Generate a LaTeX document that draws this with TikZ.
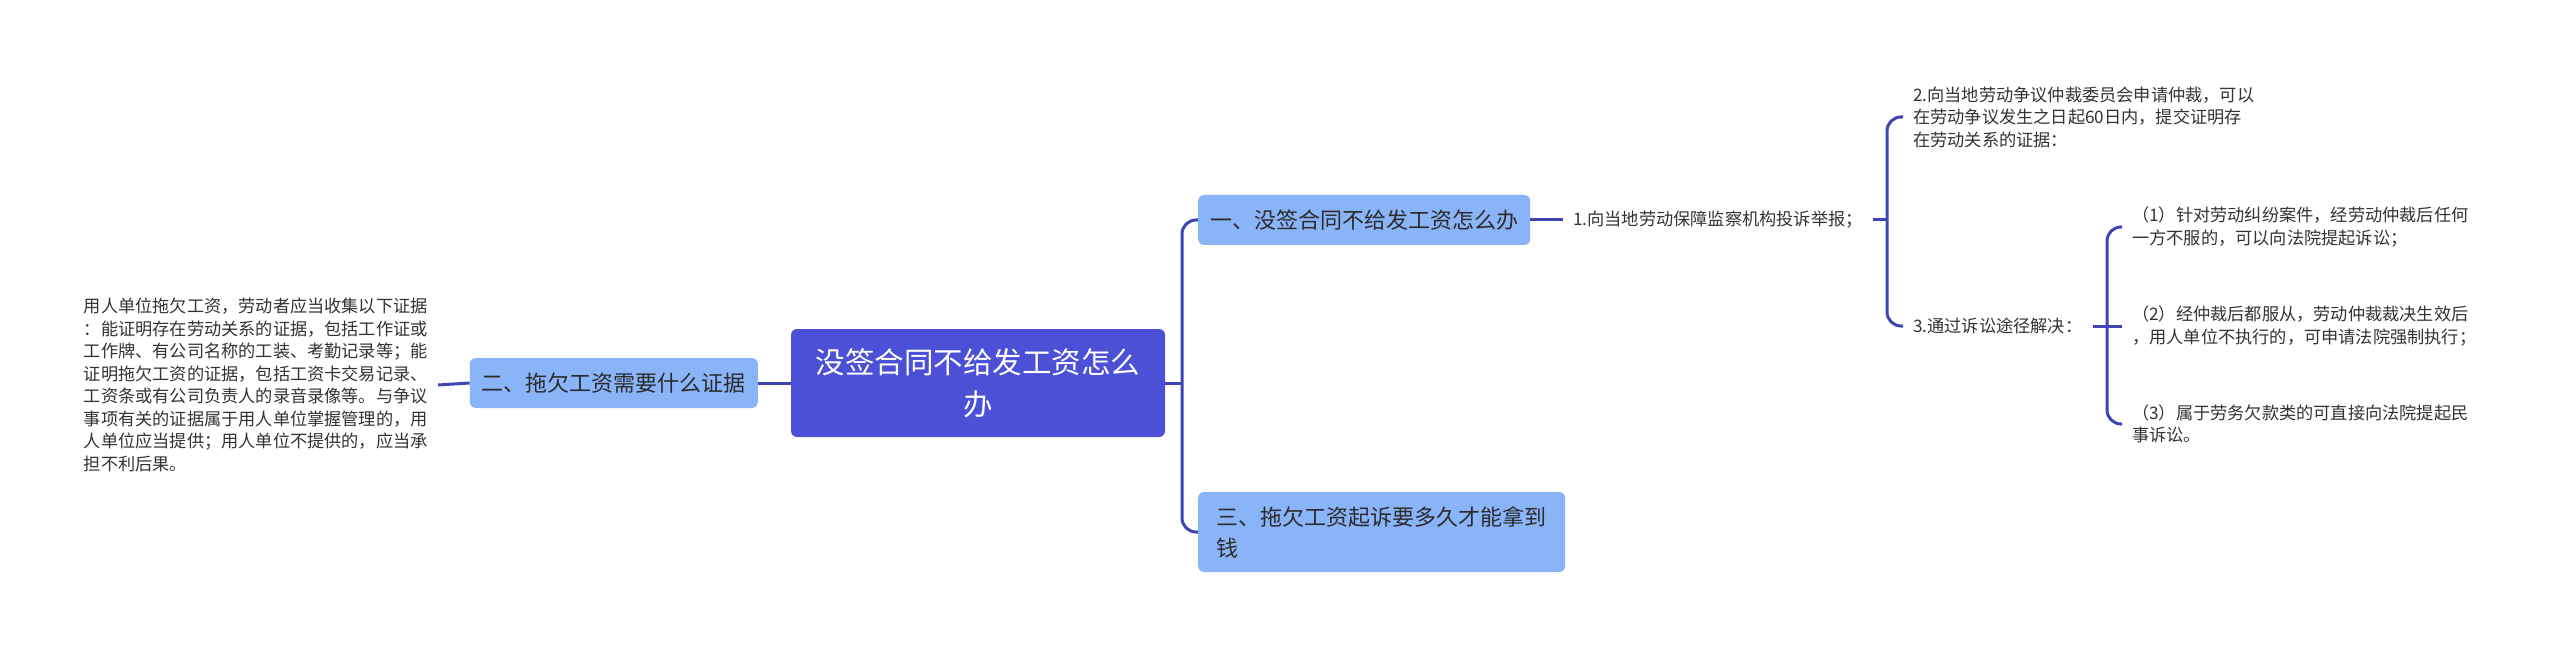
\documentclass[tikz,border=0pt]{standalone}
\usepackage{fontspec}
\setmainfont{Noto Sans CJK SC}
\usetikzlibrary{positioning}
\definecolor{rootblue}{HTML}{4B50D7}
\definecolor{topicblue}{HTML}{8AB4F8}
\definecolor{topictext}{HTML}{2B2B2B}
\definecolor{leaftext}{HTML}{333333}
\definecolor{linkblue}{HTML}{3F45B5}
\tikzset{
  rootbox/.style={fill=rootblue, text=white, rounded corners=6pt,
    font=\fontsize{29.5}{42}\selectfont, align=center,
    minimum width=374pt, minimum height=108pt},
  topicbox/.style={fill=topicblue, text=topictext, rounded corners=6pt,
    font=\fontsize{22}{31}\selectfont, align=left, inner xsep=11pt,
    minimum height=50pt},
  leaf/.style={text=leaftext, font=\fontsize{17.2}{22.5}\selectfont,
    align=left, inner xsep=10pt, inner ysep=2pt},
  link/.style={draw=linkblue, line width=3pt, rounded corners=14pt},
}
\begin{document}
\begin{tikzpicture}[x=1pt, y=-1pt]
  \fill[white] (0,0) rectangle (2560,647);
  \useasboundingbox (0,0) rectangle (2560,647);
  % centre and first level
  \node[rootbox] (root) at (978,383) {没签合同不给发工资怎么\\办};
  \node[topicbox, anchor=west, minimum width=332pt] (one) at (1198,220)
    {一、没签合同不给发工资怎么办};
  \node[topicbox, anchor=east, minimum width=288pt] (two) at (758,383)
    {二、拖欠工资需要什么证据};
  \node[topicbox, anchor=west, minimum width=367pt, minimum height=80pt]
    (three) at (1198,532) {三、拖欠工资起诉要多久才能拿到\\钱};
  % evidence text on the left
  \node[leaf, anchor=east] (evid) at (438,385)
    {用人单位拖欠工资，劳动者应当收集以下证据\\
     ：能证明存在劳动关系的证据，包括工作证或\\
     工作牌、有公司名称的工装、考勤记录等；能\\
     证明拖欠工资的证据，包括工资卡交易记录、\\
     工资条或有公司负责人的录音录像等。与争议\\
     事项有关的证据属于用人单位掌握管理的，用\\
     人单位应当提供；用人单位不提供的，应当承\\
     担不利后果。};
  % ways on the right
  \node[leaf, anchor=west] (way1) at (1563,220) {1.向当地劳动保障监察机构投诉举报；};
  \node[leaf, anchor=west] (way2) at (1903,117)
    {2.向当地劳动争议仲裁委员会申请仲裁，可以\\
     在劳动争议发生之日起60日内，提交证明存\\
     在劳动关系的证据：};
  \node[leaf, anchor=west] (way3) at (1903,326) {3.通过诉讼途径解决：};
  \node[leaf, anchor=west] (sue1) at (2122,227)
    {（1）针对劳动纠纷案件，经劳动仲裁后任何\\一方不服的，可以向法院提起诉讼；};
  \node[leaf, anchor=west] (sue2) at (2122,326)
    {（2）经仲裁后都服从，劳动仲裁裁决生效后\\，用人单位不执行的，可申请法院强制执行；};
  \node[leaf, anchor=west] (sue3) at (2122,424)
    {（3）属于劳务欠款类的可直接向法院提起民\\事诉讼。};
  % junctions
  \coordinate (j1) at (1182,383);
  \coordinate (j2) at (1887,220);
  \coordinate (j3) at (2107,326);
  % connectors
  \draw[link] (root.east) -- (j1);
  \draw[link] (j1) |- (one.west);
  \draw[link] (j1) |- (three.west);
  \draw[link] (root.west) -- (two.east);
  \draw[link] (two.west) -- (evid.east);
  \draw[link] (one.east) -- (way1.west);
  \draw[link] (way1.east) -- (j2);
  \draw[link] (j2) |- (way2.west);
  \draw[link] (j2) |- (way3.west);
  \draw[link] (way3.east) -- (j3);
  \draw[link] (j3) |- (sue1.west);
  \draw[link] (j3) -- (sue2.west);
  \draw[link] (j3) |- (sue3.west);
\end{tikzpicture}
\end{document}
